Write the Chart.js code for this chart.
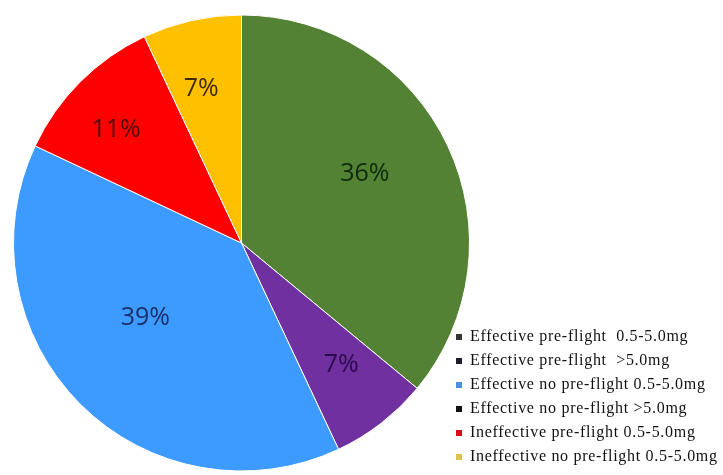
<!DOCTYPE html>
<html>
<head>
  <title>Pie Chart</title>
  <script src="https://cdn.jsdelivr.net/npm/chart.js"></script>
  <style>
    body { margin: 0; background: #fff; }
  </style>
</head>
<body>
  <canvas id="pieChart" width="723" height="475"></canvas>

  <script>
    const labels = [
      "Effective pre-flight  0.5-5.0mg",
      "Effective pre-flight  >5.0mg",
      "Effective no pre-flight 0.5-5.0mg",
      "Effective no pre-flight >5.0mg",
      "Ineffective pre-flight 0.5-5.0mg",
      "Ineffective no pre-flight 0.5-5.0mg"
    ];
    const percents = [36, 7, 39, 0, 11, 7];

    const sliceColors = ["#548235", "#7030a0", "#3d9bff", "#000000", "#ff0000", "#ffc000"];
    const textColors = ["#0f2a0a", "#2a0a4a", "#1a2f6a", "#000000", "#4a0a0a", "#3f2a00"];
    const markerColors = ["#333333", "#1c1c2c", "#4a90e0", "#111111", "#d0101a", "#dcc050"];
    // where the percentage sits: fraction of radius, and nudge in degrees
    const labelRadius = [0.62, 0.69, 0.535, 0.7, 0.74, 0.70];
    const labelTurn = [-4, -1.5, 7, 0, -3, -2];

    const sliceLabels = {
      id: "sliceLabels",
      afterDatasetsDraw(chart) {
        const c = chart.ctx;
        const arcs = chart.getDatasetMeta(0).data;
        c.save();
        c.font = "25px 'Open Sans', sans-serif";
        c.textAlign = "center";
        c.textBaseline = "middle";
        arcs.forEach((arc, i) => {
          if (!percents[i]) return;
          const p = arc.getProps(["x", "y", "startAngle", "endAngle", "outerRadius"], true);
          const mid = (p.startAngle + p.endAngle) / 2 + labelTurn[i] * Math.PI / 180;
          const r = p.outerRadius * labelRadius[i];
          c.fillStyle = textColors[i];
          c.fillText(percents[i] + "%", p.x + Math.cos(mid) * r, p.y + Math.sin(mid) * r);
        });
        c.restore();
      }
    };

    // legend in the lower right corner
    const cornerLegend = {
      id: "cornerLegend",
      afterDraw(chart) {
        const c = chart.ctx;
        c.save();
        c.font = "16px 'Liberation Serif', 'Times New Roman', serif";
        c.letterSpacing = "0.7px";
        c.textBaseline = "middle";
        labels.forEach((txt, i) => {
          const y = 337 + i * 24;
          c.fillStyle = markerColors[i];
          c.fillRect(456, y - 3, 6, 6);
          c.fillStyle = "#111";
          c.fillText(txt, 470, y);
        });
        c.restore();
      }
    };

    new Chart(document.getElementById("pieChart").getContext("2d"), {
      type: "pie",
      data: {
        labels: labels,
        datasets: [{
          data: percents,
          backgroundColor: sliceColors,
          borderColor: "#ffffff",
          borderWidth: 1
        }]
      },
      options: {
        responsive: false,
        animation: false,
        layout: { padding: { left: 13, right: 253, top: 14, bottom: 3 } },
        plugins: {
          legend: { display: false },
          tooltip: { enabled: false }
        }
      },
      plugins: [sliceLabels, cornerLegend]
    });
  </script>
</body>
</html>
